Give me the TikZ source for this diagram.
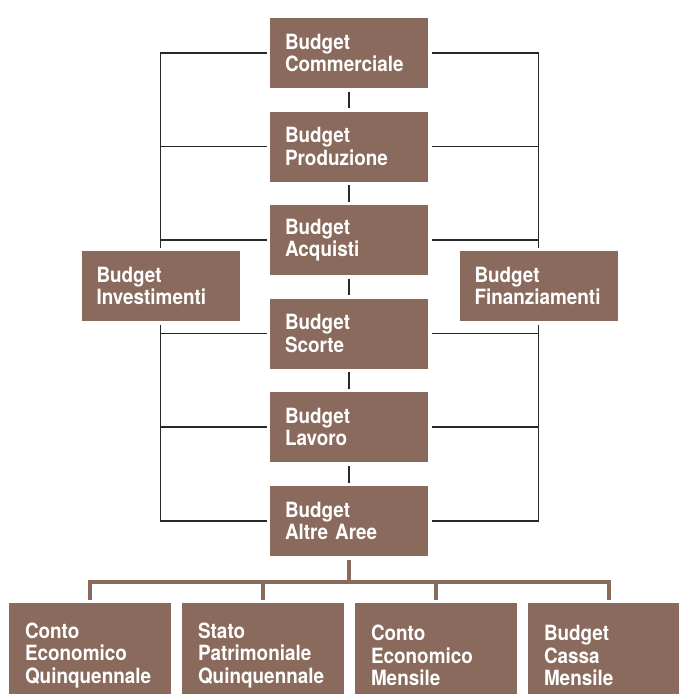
\documentclass[tikz,border=0pt]{standalone}
\usepackage{fontspec}
\setmainfont{TeX Gyre Heros}[FakeStretch=0.9]
\definecolor{bx}{RGB}{137,106,92}
\definecolor{ln}{RGB}{40,40,40}
\begin{document}
\begin{tikzpicture}[x=1pt,y=-1pt,
 box/.style={fill=bx, text=white, font=\bfseries\fontsize{21}{22.5}\selectfont, inner sep=0pt, outer sep=3.5pt, align=left, minimum height=70pt},
 cbox/.style={box, minimum width=158pt, text width=128pt},
 botbox/.style={box, minimum width=162pt, text width=130pt, minimum height=105pt},
 thinln/.style={draw=ln, line width=1.2pt},
 thickln/.style={draw=bx, line width=4pt}]
\useasboundingbox (0,0) rectangle (679,694);
\fill[white] (0,0) rectangle (679,694);
\node[cbox] (c1) at (349,53) {Budget\\Commerciale};
\node[cbox] (c2) at (349,146.5) {Budget\\Produzione};
\node[cbox] (c3) at (349,240) {Budget\\Acquisti};
\node[cbox] (c4) at (349,333.5) {Budget\\Scorte};
\node[cbox] (c5) at (349,427) {Budget\\Lavoro};
\node[cbox] (c6) at (349,521) {Budget\\Altre Aree};
\node[cbox] (inv) at (160.5,286) {Budget\\Investimenti};
\node[cbox] (fin) at (538.5,286) {Budget\\Finanziamenti};
\node[botbox] (b1) at (90,655.5) {Conto\\Economico\\Quinquennale};
\node[botbox] (b2) at (263,655.5) {Stato\\Patrimoniale\\Quinquennale};
\node[botbox] (b3) at (436,655.5) {Conto\\Economico\\Mensile};
\node[botbox] (b4) at (609,655.5) {Budget\\Cassa\\Mensile};
% central connectors
\draw[thinln] (c1) -- (c2);
\draw[thinln] (c2) -- (c3);
\draw[thinln] (c3) -- (c4);
\draw[thinln] (c4) -- (c5);
\draw[thinln] (c5) -- (c6);
% left side
\draw[thinln] (c1.west) -| (inv.north);
\draw[thinln] (c2.west) -- (c2.west -| inv.north);
\draw[thinln] (c3.west) -- (c3.west -| inv.north);
\draw[thinln] (inv.south) |- (c6.west);
\draw[thinln] (c4.west) -- (c4.west -| inv.south);
\draw[thinln] (c5.west) -- (c5.west -| inv.south);
% right side
\draw[thinln] (c1.east) -| (fin.north);
\draw[thinln] (c2.east) -- (c2.east -| fin.north);
\draw[thinln] (c3.east) -- (c3.east -| fin.north);
\draw[thinln] (fin.south) |- (c6.east);
\draw[thinln] (c4.east) -- (c4.east -| fin.south);
\draw[thinln] (c5.east) -- (c5.east -| fin.south);
% bottom tree
\draw[thickln] (c6.south) -- ++(0,22) coordinate (bar);
\draw[thickln] (b1.north) |- (bar) -| (b4.north);
\draw[thickln] (b2.north) -- (b2.north |- bar);
\draw[thickln] (b3.north) -- (b3.north |- bar);
\end{tikzpicture}
\end{document}
